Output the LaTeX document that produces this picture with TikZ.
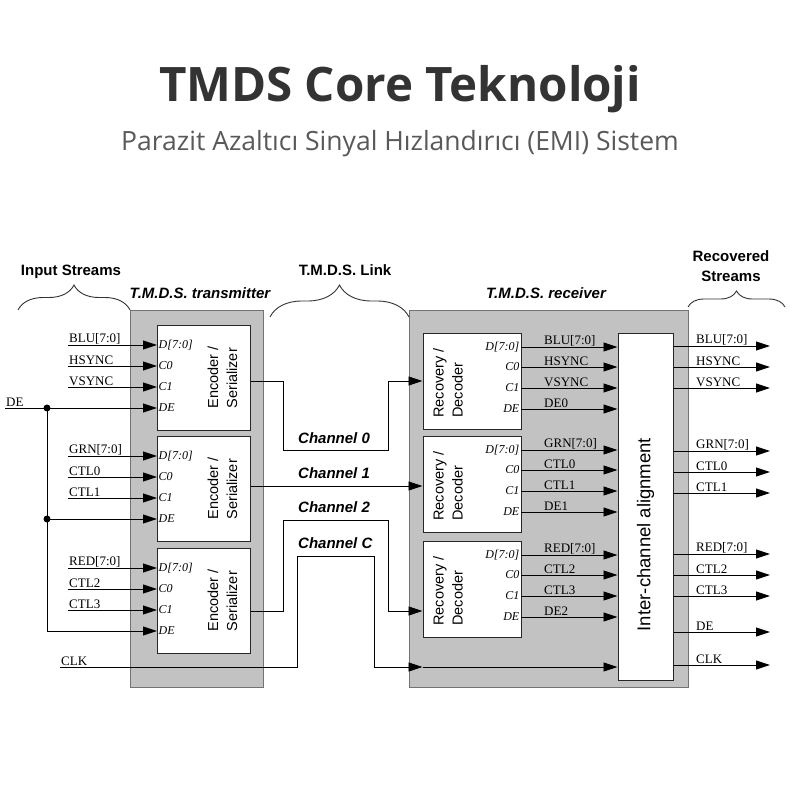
\documentclass[tikz,border=0pt]{standalone}
\usepackage{fontspec}
\setmainfont{Liberation Serif}
\setsansfont{Liberation Sans}
\newfontfamily\headfont{Open Sans}
\usetikzlibrary{arrows.meta,decorations.pathreplacing,positioning}

\begin{document}
\begin{tikzpicture}[x=1pt,y=-1pt,
	sig/.style={line width=0.9pt,-{Triangle[length=14pt,width=9pt]}},
	panel/.style={draw=black!55,line width=1pt,fill=black!24,inner sep=0pt},
	blk/.style={draw=black!85,line width=1pt,fill=white,inner sep=0pt},
	blktxt/.style={rotate=90,align=left,inner sep=0pt,font=\sffamily\fontsize{14.5}{19}\selectfont},
	pinl/.style={anchor=west,inner sep=1.5pt,font=\itshape\fontsize{12}{12}\selectfont},
	pinr/.style={anchor=east,inner sep=1.5pt,font=\itshape\fontsize{12}{12}\selectfont},
	sigl/.style={anchor=south west,inner sep=1pt,font=\fontsize{13}{13}\selectfont},
	head/.style={anchor=base,inner sep=0pt,font=\sffamily\bfseries\fontsize{15}{20}\selectfont},
	chan/.style={anchor=base west,inner sep=0pt,font=\sffamily\bfseries\itshape\fontsize{15}{15}\selectfont},
	brc/.style={draw=black!80,line width=0.9pt,decorate,decoration={brace,amplitude=#1}}]
	\fill[white] (0,0) rectangle (800,800);
	\useasboundingbox (0,0) rectangle (800,800);

	\node[anchor=base,text=black!80,font=\headfont\bfseries\fontsize{47.5}{52}\selectfont] (title) at (400,101) {TMDS Core Teknoloji};
	\node[anchor=base,text=black!65,font=\headfont\fontsize{26.5}{30}\selectfont] (subtitle) at (400,150) {Parazit Azaltıcı Sinyal Hızlandırıcı (EMI) Sistem};

	\node[panel,minimum width=133pt,minimum height=377pt] (tx) at (196.5,499) {};
	\node[panel,minimum width=279pt,minimum height=377pt] (rx) at (548.5,499) {};

	\node[head] (inh) at (71,275) {Input Streams};
	\node[head,font=\sffamily\bfseries\itshape\fontsize{15}{20}\selectfont] (txh) at (200,298) {T.M.D.S. transmitter};
	\node[head] (linkh) at (345,275) {T.M.D.S. Link};
	\node[head,font=\sffamily\bfseries\itshape\fontsize{15}{20}\selectfont] (rxh) at (546,298) {T.M.D.S. receiver};
	\node[head,anchor=center,align=center] (outh) at (731,266) {Recovered\\Streams};
	\draw[brc=25] (18,310) -- (130,310);
	\draw[brc=32] (270,317) -- (409,317);
	\draw[brc=16] (688,307) -- (785,307);

	\foreach \n/\top/\sa/\sb/\sc in {1/325/BLU[7:0]/HSYNC/VSYNC, 2/436/GRN[7:0]/CTL0/CTL1, 3/548/RED[7:0]/CTL2/CTL3} {
		\node[blk,minimum width=93pt,minimum height=105pt] (enc\n) at (203.5,\top+52.5) {};
		\node[blktxt] (enc\n t) at (222.5,\top+52.5) {Encoder /\\Serializer};
		\node[pinl] (enc\n d) at (157,\top+20) {D[7:0]};
		\node[pinl] (enc\n c0) at (157,\top+41) {C0};
		\node[pinl] (enc\n c1) at (157,\top+62) {C1};
		\node[pinl] (enc\n de) at (157,\top+83) {DE};
		\node[sigl] (in\n a) at (68,\top+20) {\sa};
		\node[sigl] (in\n b) at (68,\top+41) {\sb};
		\node[sigl] (in\n c) at (68,\top+62) {\sc};
		\draw[sig] (in\n a.south west) -- (enc\n d.west);
		\draw[sig] (in\n b.south west) -- (enc\n c0.west);
		\draw[sig] (in\n c.south west) -- (enc\n c1.west);
	}

	\node[sigl] (dein) at (5,408) {DE};
	\coordinate (j1) at (47,408);
	\coordinate (j2) at (47,519);
	\draw[sig] (dein.south west) -- (enc1de.west);
	\draw[sig] (j2) -- (enc2de.west);
	\draw[sig] (j1) |- (enc3de.west);
	\fill (j1) circle (3.5pt) (j2) circle (3.5pt);

	\node[blk,minimum width=55pt,minimum height=347pt] (align) at (645.5,506.5) {};
	\node[blktxt,font=\sffamily\fontsize{18.5}{22}\selectfont] (alignt) at (645.5,534.5) {Inter-channel alignment};

	\foreach \n/\top/\sa/\sb/\sc/\sd in {1/333/BLU[7:0]/HSYNC/VSYNC/DE0, 2/436/GRN[7:0]/CTL0/CTL1/DE1, 3/541/RED[7:0]/CTL2/CTL3/DE2} {
		\node[blk,minimum width=98pt,minimum height=96pt] (rec\n) at (472,\top+48) {};
		\node[blktxt] (rec\n t) at (448,\top+50) {Recovery /\\Decoder};
		\node[pinr] (rec\n d) at (521,\top+14) {D[7:0]};
		\node[pinr] (rec\n c0) at (521,\top+34) {C0};
		\node[pinr] (rec\n c1) at (521,\top+55) {C1};
		\node[pinr] (rec\n de) at (521,\top+76) {DE};
		\node[sigl] (mid\n a) at (543,\top+14) {\sa};
		\node[sigl] (mid\n b) at (543,\top+34) {\sb};
		\node[sigl] (mid\n c) at (543,\top+55) {\sc};
		\node[sigl] (mid\n d) at (543,\top+76) {\sd};
		\draw[sig] (rec\n d.east) -- (rec\n d.east -| align.west);
		\draw[sig] (rec\n c0.east) -- (rec\n c0.east -| align.west);
		\draw[sig] (rec\n c1.east) -- (rec\n c1.east -| align.west);
		\draw[sig] (rec\n de.east) -- (rec\n de.east -| align.west);
	}

	\node[chan] (ch0) at (298,443) {Channel 0};
	\node[chan] (ch1) at (298,478) {Channel 1};
	\node[chan] (ch2) at (298,512) {Channel 2};
	\node[chan] (chc) at (298,548) {Channel C};
	\draw[sig] (enc1.east |- 0,381) -| (283,450) -| (388,381) -- (rec1.west |- 0,381);
	\draw[sig] (enc2.east |- 0,486) -- (rec2.west |- 0,486);
	\draw[sig] (enc3.east |- 0,611) -| (283,520) -| (388,611) -- (rec3.west |- 0,611);
	\node[sigl] (clkin) at (60,667) {CLK};
	\draw[sig] (clkin.south west) -| (297,556) -| (374,667) -- (rec3.west |- clkin.south west);
	\draw[sig] (rec3.west |- clkin.south west) -- (align.west |- clkin.south west);

	\foreach \y/\lab [count=\i] in {346/BLU[7:0],367/HSYNC,388/VSYNC,451/GRN[7:0],472/CTL0,493/CTL1,554/RED[7:0],575/CTL2,596/CTL3,632/DE,665/CLK} {
		\coordinate (out\i) at (770,\y);
		\node[sigl] (out\i l) at (695,\y) {\lab};
		\draw[sig] (align.east |- out\i) -- (out\i);
	}
\end{tikzpicture}
\end{document}
